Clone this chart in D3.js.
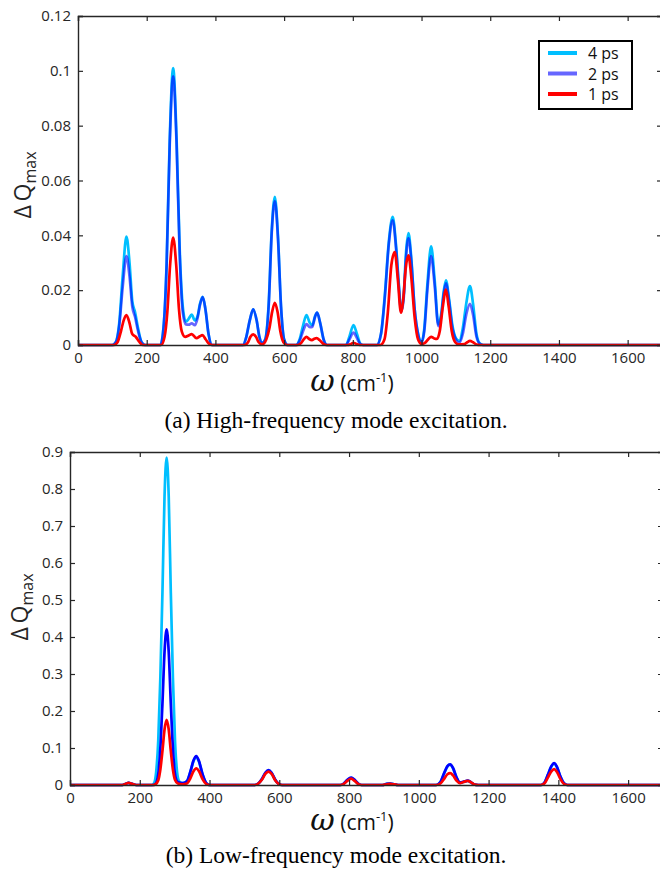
<!DOCTYPE html>
<html>
<head>
<meta charset="utf-8">
<script src="https://cdnjs.cloudflare.com/ajax/libs/d3/7.8.5/d3.min.js"></script>
<style>
  body { margin: 0; background: #fff; }
  svg text { font-family: "Open Sans", "Liberation Sans", sans-serif; }
  svg text.caption { font-family: "Liberation Serif", "Times New Roman", serif; }
</style>
</head>
<body>
<div id="chart"></div>
<script>
// series labels + colours
var seriesNames = ["4 ps", "2 ps", "1 ps"]
var seriesColors = ["#00bfff", "#0000ff", "#ff0000"]

// tick values
var xTicks = [0, 200, 400, 600, 800, 1000, 1200, 1400, 1600]
var yTicksTop = [0, 0.02, 0.04, 0.06, 0.08, 0.1, 0.12]
var yTicksBottom = [0, 0.1, 0.2, 0.3, 0.4, 0.5, 0.6, 0.7, 0.8, 0.9]

// (a) high-frequency excitation, [omega, dQmax]
var highF_4ps = [[0,0],[100,0],[110,0.001],[120,0.008],[130,0.025],[141,0.0395],[150,0.030],[158,0.016],[166,0.012],[175,0.006],[185,0.001],[195,0],
  [240,0],[250,0.008],[258,0.03],[267,0.075],[277,0.101],[287,0.075],[296,0.035],[305,0.014],[314,0.0085],[322,0.0095],[331,0.0111],[340,0.009],[348,0.0105],[355,0.015],[363,0.0176],[371,0.013],[380,0.004],[390,0],
  [480,0],[490,0.003],[500,0.009],[510,0.013],[520,0.009],[528,0.003],[536,0.0008],[545,0.002],[555,0.015],[564,0.042],[573,0.054],[582,0.04],[591,0.014],[600,0.002],[610,0],
  [635,0],[645,0.002],[655,0.007],[665,0.0109],[675,0.008],[682,0.0072],[690,0.0105],[696,0.0118],[705,0.008],[715,0.002],[725,0],
  [780,0],[790,0.003],[802,0.0073],[812,0.004],[822,0.0005],[830,0],
  [870,0],[882,0.004],[893,0.018],[905,0.038],[916,0.0467],[926,0.036],[934,0.022],[941,0.0125],[948,0.018],[955,0.034],[962,0.0408],[970,0.032],[980,0.013],[990,0.004],[1000,0.001],
  [1008,0.006],[1017,0.022],[1028,0.036],[1038,0.024],[1049,0.0075],[1058,0.012],[1064,0.019],[1071,0.0236],[1080,0.017],[1090,0.007],[1100,0.0025],[1110,0.0015],
  [1120,0.006],[1130,0.015],[1141,0.0215],[1150,0.015],[1160,0.004],[1170,0.0005],[1180,0],[1700,0]]

var highF_2ps = [[0,0],[100,0],[110,0.001],[120,0.007],[130,0.021],[141,0.0324],[150,0.025],[158,0.014],[166,0.0103],[175,0.005],[185,0.001],[195,0],
  [240,0],[250,0.008],[258,0.029],[267,0.073],[277,0.098],[287,0.073],[296,0.033],[305,0.012],[314,0.0075],[322,0.0074],[331,0.0079],[340,0.0072],[348,0.0098],[355,0.0145],[363,0.0175],[371,0.013],[380,0.004],[390,0],
  [480,0],[490,0.003],[500,0.009],[510,0.013],[520,0.009],[528,0.003],[536,0.0008],[545,0.002],[555,0.014],[564,0.041],[573,0.0525],[582,0.039],[591,0.014],[600,0.002],[610,0],
  [635,0],[645,0.0015],[655,0.005],[665,0.0076],[675,0.0065],[682,0.0066],[690,0.0102],[696,0.0118],[705,0.008],[715,0.002],[725,0],
  [780,0],[790,0.002],[802,0.0045],[812,0.0025],[822,0.0003],[830,0],
  [870,0],[882,0.004],[893,0.017],[905,0.037],[916,0.0455],[926,0.035],[934,0.021],[941,0.0122],[948,0.017],[955,0.032],[962,0.039],[970,0.031],[980,0.013],[990,0.004],[1000,0.001],
  [1008,0.005],[1017,0.02],[1028,0.0324],[1038,0.022],[1049,0.0069],[1058,0.011],[1064,0.018],[1071,0.0225],[1080,0.016],[1090,0.006],[1100,0.002],[1110,0.0008],
  [1120,0.004],[1130,0.011],[1141,0.015],[1150,0.011],[1160,0.003],[1170,0.0004],[1180,0],[1700,0]]

var highF_1ps = [[0,0],[105,0],[115,0.001],[125,0.005],[133,0.009],[141,0.0109],[150,0.008],[158,0.004],[168,0.003],[178,0.0012],[188,0],
  [242,0],[252,0.003],[260,0.012],[268,0.029],[277,0.0392],[286,0.029],[294,0.013],[302,0.005],[312,0.003],[322,0.0035],[331,0.004],[345,0.0025],[355,0.0032],[362,0.0036],[372,0.002],[382,0.0004],[392,0],
  [485,0],[495,0.001],[502,0.003],[510,0.0039],[518,0.003],[526,0.001],[536,0.0002],[548,0.002],[557,0.006],[565,0.012],[573,0.0154],[581,0.012],[589,0.005],[598,0.001],[608,0],
  [640,0],[650,0.0008],[658,0.0022],[665,0.003],[673,0.0022],[681,0.0018],[688,0.0023],[695,0.0025],[703,0.0018],[713,0.0005],[722,0],
  [785,0],[795,0.0004],[802,0.0008],[810,0.0004],[820,0],
  [880,0],[892,0.002],[902,0.012],[912,0.029],[922,0.0339],[931,0.024],[940,0.0118],[947,0.017],[954,0.028],[962,0.0327],[970,0.025],[980,0.01],[990,0.002],[1000,0.0004],
  [1010,0.0008],[1019,0.002],[1028,0.003],[1037,0.0024],[1045,0.0022],[1053,0.005],[1062,0.014],[1071,0.0202],[1079,0.014],[1088,0.005],[1098,0.001],[1108,0.0002],
  [1125,0.0003],[1133,0.001],[1141,0.0015],[1150,0.001],[1160,0.0002],[1170,0],[1700,0]]

// (b) low-frequency excitation
var lowF_4ps = [[0,0],[150,0],[160,0.003],[168,0.006],[178,0.003],[190,0],
  [235,0],[241,0.005],[247,0.035],[253,0.12],[259,0.29],[265,0.52],[271,0.78],[277,0.885],[283,0.78],[289,0.52],[295,0.29],[301,0.12],[307,0.035],[313,0.01],[322,0.005],
  [335,0.01],[345,0.035],[354,0.064],[362,0.076],[370,0.062],[380,0.028],[390,0.006],[400,0],
  [530,0],[540,0.004],[550,0.015],[560,0.032],[569,0.039],[578,0.032],[588,0.014],[598,0.003],[608,0],
  [775,0],[785,0.004],[795,0.013],[806,0.019],[816,0.013],[826,0.004],[836,0],
  [895,0],[908,0.003],[918,0.004],[930,0.002],[940,0],
  [1050,0],[1062,0.008],[1072,0.03],[1082,0.05],[1090,0.055],[1098,0.045],[1108,0.02],[1118,0.006],[1128,0.008],[1140,0.011],[1150,0.007],[1160,0.001],[1170,0],
  [1350,0],[1360,0.006],[1370,0.027],[1380,0.05],[1388,0.058],[1396,0.048],[1406,0.022],[1416,0.005],[1426,0],[1700,0]]

var lowF_2ps = [[0,0],[150,0],[160,0.003],[168,0.006],[178,0.003],[190,0],
  [238,0],[245,0.003],[253,0.03],[259,0.1],[265,0.22],[271,0.36],[277,0.421],[283,0.36],[289,0.22],[295,0.1],[301,0.03],[309,0.008],[322,0.005],
  [335,0.01],[345,0.036],[354,0.066],[362,0.078],[370,0.064],[380,0.029],[390,0.006],[400,0],
  [530,0],[540,0.004],[550,0.016],[560,0.033],[569,0.04],[578,0.033],[588,0.015],[598,0.003],[608,0],
  [775,0],[785,0.004],[795,0.014],[806,0.02],[816,0.014],[826,0.004],[836,0],
  [895,0],[908,0.003],[918,0.004],[930,0.002],[940,0],
  [1050,0],[1062,0.008],[1072,0.031],[1082,0.051],[1090,0.056],[1098,0.046],[1108,0.021],[1118,0.007],[1128,0.009],[1140,0.012],[1150,0.007],[1160,0.001],[1170,0],
  [1350,0],[1360,0.006],[1370,0.028],[1380,0.051],[1388,0.059],[1396,0.049],[1406,0.023],[1416,0.005],[1426,0],[1700,0]]

var lowF_1ps = [[0,0],[150,0],[160,0.003],[168,0.006],[178,0.003],[190,0],
  [238,0],[245,0.002],[253,0.013],[259,0.042],[265,0.092],[271,0.15],[277,0.176],[283,0.15],[289,0.092],[295,0.042],[301,0.014],[309,0.004],[322,0.002],
  [335,0.004],[345,0.018],[354,0.037],[362,0.045],[370,0.037],[380,0.016],[390,0.003],[400,0],
  [530,0],[540,0.004],[550,0.014],[560,0.03],[569,0.036],[578,0.03],[588,0.013],[598,0.003],[608,0],
  [775,0],[785,0.003],[795,0.011],[806,0.017],[816,0.011],[826,0.003],[836,0],
  [895,0],[908,0.002],[918,0.003],[930,0.0015],[940,0],
  [1050,0],[1062,0.004],[1072,0.016],[1082,0.029],[1090,0.032],[1098,0.026],[1108,0.012],[1118,0.005],[1128,0.008],[1140,0.011],[1150,0.007],[1160,0.001],[1170,0],
  [1350,0],[1360,0.004],[1370,0.02],[1380,0.037],[1388,0.043],[1396,0.035],[1406,0.016],[1416,0.003],[1426,0],[1700,0]]


var W = 660, H = 871

var svg = d3.select("#chart").append("svg")
  .attr("width", W)
  .attr("height", H)

var ink = "#262626"

function drawPanel(opt) {
  var g = svg.append("g")
  var x = d3.scaleLinear().domain([0, 1700]).range([opt.left, opt.right])
  var y = d3.scaleLinear().domain([0, opt.ymax]).range([opt.bottom, opt.top])

  var clipId = "clip" + opt.id
  g.append("clipPath").attr("id", clipId)
    .append("rect")
    .attr("x", opt.left).attr("y", opt.top - 3)
    .attr("width", opt.right - opt.left).attr("height", opt.bottom - opt.top + 6)

  // curves first, frame drawn after
  var line = d3.line()
    .x(function(d) { return x(d[0]) })
    .y(function(d) { return y(d[1]) })
    .curve(d3.curveMonotoneX)

  var curves = g.append("g").attr("clip-path", "url(#" + clipId + ")")
  opt.series.forEach(function(s, i) {
    curves.append("path")
      .datum(s)
      .attr("d", line)
      .attr("fill", "none")
      .attr("stroke", seriesColors[i])
      .attr("stroke-opacity", opt.opacity[i])
      .attr("stroke-width", 2.7)
      .attr("stroke-linejoin", "round")
  })

  // axes, ticks pointing inward on all four sides
  var tick = 5
  g.append("g")
    .attr("transform", "translate(0," + opt.bottom + ")")
    .call(d3.axisBottom(x).tickValues(xTicks).tickSize(-tick).tickPadding(7).tickFormat(d3.format("d")))
  g.append("g")
    .attr("transform", "translate(0," + opt.top + ")")
    .call(d3.axisTop(x).tickValues(xTicks).tickSize(-tick).tickFormat(""))
  g.append("g")
    .attr("transform", "translate(" + opt.left + ",0)")
    .call(d3.axisLeft(y).tickValues(opt.yTicks).tickSize(-tick).tickPadding(7).tickFormat(function(d) { return d3.format("~g")(d) }))
  g.append("g")
    .attr("transform", "translate(" + opt.right + ",0)")
    .call(d3.axisRight(y).tickValues(opt.yTicks).tickSize(-tick).tickFormat(""))

  g.selectAll(".domain").attr("stroke", ink).attr("stroke-width", 1.4)
  g.selectAll(".tick line").attr("stroke", ink).attr("stroke-width", 1.2)
  g.selectAll(".tick text").attr("fill", ink).style("font-size", "15px")

  // y label
  var yl = g.append("text")
    .attr("transform", "translate(" + opt.ylabX + "," + opt.ylabY + ") rotate(-90)")
    .attr("text-anchor", "middle")
    .attr("fill", ink)
    .style("font-size", "23px")
  yl.append("tspan").text("\u0394\u2009Q")
  yl.append("tspan").text("max").style("font-size", "16px").attr("dy", 5)

  // x label
  var xl = g.append("text")
    .attr("x", opt.xlabX).attr("y", opt.xlabY)
    .attr("text-anchor", "middle")
    .attr("fill", "#111")
    .style("font-size", "21px")
  xl.append("tspan").text("\u03c9").style("font-style", "italic").style("font-size", "30px")
    .style("font-family", "'DejaVu Serif', serif")
  xl.append("tspan").text(" (cm")
  xl.append("tspan").text("-1").style("font-size", "13px").attr("dy", -9)
  xl.append("tspan").text(")").attr("dy", 9)

  // caption under the panel
  g.append("text")
    .attr("class", "caption")
    .attr("x", opt.capX).attr("y", opt.capY)
    .attr("text-anchor", "middle")
    .attr("fill", "#000")
    .style("font-size", "23.5px")
    .text(opt.caption)

  return { x: x, y: y, g: g }
}

var panelA = drawPanel({
  id: "a",
  left: 78, right: 662, top: 16, bottom: 345,
  ymax: 0.12, yTicks: yTicksTop,
  series: [highF_4ps, highF_2ps, highF_1ps],
  opacity: [1, 0.6, 1],
  ylabX: 31, ylabY: 185,
  xlabX: 352, xlabY: 391,
  capX: 336, capY: 428,
  caption: "(a) High-frequency mode excitation."
})

// legend only on the top panel
var leg = panelA.g.append("g")
leg.append("rect")
  .attr("x", 539).attr("y", 41).attr("width", 93).attr("height", 68)
  .attr("fill", "#fff").attr("stroke", "#000").attr("stroke-width", 2)
seriesNames.forEach(function(n, i) {
  var yy = 53 + i * 20.5
  leg.append("line")
    .attr("x1", 548).attr("x2", 577).attr("y1", yy).attr("y2", yy)
    .attr("stroke", seriesColors[i])
    .attr("stroke-opacity", i == 1 ? 0.6 : 1)
    .attr("stroke-width", 4)
  leg.append("text")
    .attr("x", 588).attr("y", yy + 6)
    .attr("fill", "#111")
    .style("font-size", "16px")
    .text(n)
})

drawPanel({
  id: "b",
  left: 70, right: 663, top: 452, bottom: 785,
  ymax: 0.9, yTicks: yTicksBottom,
  series: [lowF_4ps, lowF_2ps, lowF_1ps],
  opacity: [1, 1, 1],
  ylabX: 28, ylabY: 607,
  xlabX: 352, xlabY: 830,
  capX: 336, capY: 863,
  caption: "(b) Low-frequency mode excitation."
})
</script>
</body>
</html>
